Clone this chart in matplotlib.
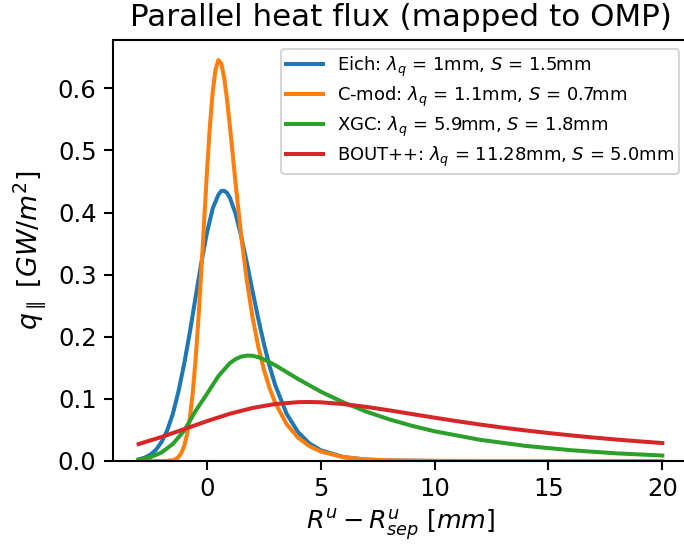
import matplotlib
matplotlib.use("Agg")
import matplotlib.pyplot as plt

# ---- data ----
eich_x = [-3, -2.75, -2.5, -2.25, -2, -1.75, -1.5, -1.25, -1, -0.75, -0.5, -0.25, 0, 0.25, 0.5,
          0.625, 0.75, 0.875, 1, 1.25, 1.5, 1.75, 2, 2.25, 2.5, 2.75, 3, 3.5, 4, 4.5, 5,
          6, 7, 8, 10, 12, 15, 20]
eich_q = [0.0026, 0.0052, 0.0098, 0.0176, 0.0304, 0.049, 0.0758, 0.1124, 0.1567, 0.2077, 0.2639,
          0.3188, 0.3675, 0.4063, 0.4286, 0.4346, 0.435, 0.4318, 0.4242, 0.3987, 0.3623, 0.3193,
          0.2738, 0.2295, 0.1886, 0.1525, 0.1218, 0.0759, 0.0465, 0.0283, 0.0172, 0.0063,
          0.0023, 0.0009, 0.0001, 0.0, 0.0, 0.0]

cmod_x = [-3, -2.5, -2, -1.75, -1.5, -1.375, -1.25, -1.125, -1, -0.875, -0.75, -0.625, -0.5,
          -0.375, -0.25, -0.125, 0, 0.125, 0.25, 0.375, 0.5, 0.625, 0.75, 0.875, 1, 1.125,
          1.25, 1.5, 1.75, 2, 2.25, 2.5, 2.75, 3, 3.5, 4, 4.5, 5, 6, 7, 8, 10, 12, 15, 20]
cmod_q = [0.0, 0.0, 0.00003, 0.00025, 0.0014, 0.0031, 0.0065, 0.013, 0.0243, 0.0427, 0.070,
          0.1097, 0.1631, 0.2292, 0.305, 0.3857, 0.4662, 0.5376, 0.5935, 0.630, 0.6454, 0.640,
          0.6183, 0.5836, 0.5415, 0.4957, 0.4494, 0.3632, 0.2906, 0.2317, 0.1846, 0.1471,
          0.1172, 0.0933, 0.0593, 0.0376, 0.0239, 0.0152, 0.0061, 0.0025, 0.001, 0.0002,
          0.0, 0.0, 0.0]

xgc_x = [-3, -2.5, -2, -1.5, -1, -0.5, 0, 0.5, 1, 1.25, 1.5, 1.75, 2, 2.25, 2.5, 3, 3.5, 4,
         5, 6, 7, 8, 9, 10, 12, 14, 16, 18, 20]
xgc_q = [0.0022, 0.0059, 0.0136, 0.0275, 0.0489, 0.0806, 0.1081, 0.1365, 0.1574, 0.1639,
         0.1680, 0.1697, 0.1694, 0.1672, 0.1636, 0.1541, 0.1431, 0.1320, 0.1116, 0.0942,
         0.0795, 0.0671, 0.0567, 0.0478, 0.0341, 0.0243, 0.0173, 0.0123, 0.0088]

bout_x = [-3, -2, -1, 0, 1, 2, 3, 4, 4.5, 5, 6, 7, 8, 9, 10, 11, 12, 13, 14, 15, 16, 17,
          18, 19, 20]
bout_q = [0.0273, 0.0386, 0.0513, 0.0642, 0.0760, 0.0854, 0.0917, 0.0947, 0.0950, 0.0945,
          0.0916, 0.0871, 0.0816, 0.0756, 0.0697, 0.0640, 0.0587, 0.0537, 0.0492, 0.0450,
          0.0412, 0.0377, 0.0345, 0.0316, 0.0289]

labels = [r'Eich: $\lambda_q$ = 1mm, $S$ = 1.5mm',
          r'C-mod: $\lambda_q$ = 1.1mm, $S$ = 0.7mm',
          r'XGC: $\lambda_q$ = 5.9mm, $S$ = 1.8mm',
          r'BOUT++: $\lambda_q$ = 11.28mm, $S$ = 5.0mm']

W, H = 684, 548
fig = plt.figure(figsize=(W / 100, H / 100), dpi=100)
ax = fig.add_axes([112.5 / W, (H - 461) / H, (688.5 - 112.5) / W, (461 - 40) / H])

lw = 2.9
ax.plot(eich_x, eich_q, color='#1f77b4', lw=lw, label=labels[0])
ax.plot(cmod_x, cmod_q, color='#ff7f0e', lw=lw, label=labels[1])
ax.plot(xgc_x, xgc_q, color='#2ca02c', lw=lw, label=labels[2])
ax.plot(bout_x, bout_q, color='#d62728', lw=lw, label=labels[3])

ax.set_ylim(bottom=0)
ax.set_xticks([0, 5, 10, 15, 20])
ax.set_yticks([0.0, 0.1, 0.2, 0.3, 0.4, 0.5, 0.6])
ax.tick_params(labelsize=17.5, length=6.5, width=1.5, pad=5)
for s in ax.spines.values():
    s.set_linewidth(1.5)

ax.set_title('Parallel heat flux (mapped to OMP)', fontsize=22.3, pad=10)
ax.set_xlabel(r'$R^u - R^u_{sep}$ $[mm]$', fontsize=18.3, labelpad=5)
ax.set_ylabel(r'$q_\parallel$ $[GW/m^2]$', fontsize=19.3, labelpad=7)

leg = ax.legend(loc='upper right', fontsize=13, borderaxespad=0.5,
                labelspacing=0.32, borderpad=0.3)
leg.get_frame().set_linewidth(1.5)

fig.savefig('out.png', dpi=100)
